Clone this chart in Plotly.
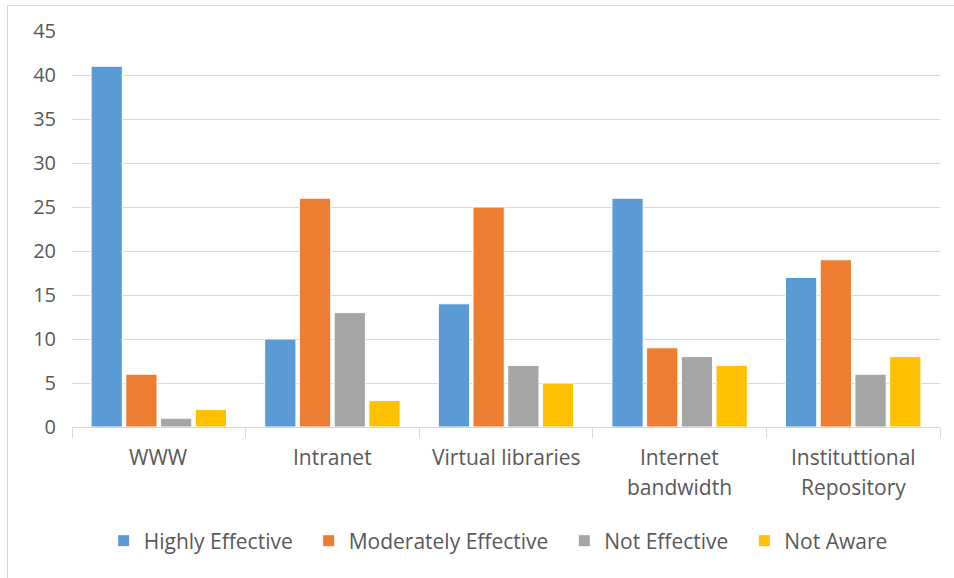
import plotly.graph_objects as go

# Tool categories on the x axis (label lines separated by <br>)
categories = ["WWW", "Intranet", "Virtual libraries",
              "Internet<br>bandwidth", "Instituttional<br>Repository"]

# Responses per rating level
highly_effective = [41, 10, 14, 26, 17]
moderately_effective = [6, 26, 25, 9, 19]
not_effective = [1, 13, 7, 8, 6]
not_aware = [2, 3, 5, 7, 8]

series_names = ["Highly Effective", "Moderately Effective",
                "Not Effective", "Not Aware"]
series_values = [highly_effective, moderately_effective, not_effective, not_aware]
series_colors = ["#5B9BD5", "#ED7D31", "#A5A5A5", "#FFC000"]

font_family = "Open Sans, Noto Sans, sans-serif"
text_color = "#595959"
grid_color = "#D9D9D9"
label_size = 21
tick_size = 20

# Non-breaking spaces widen the gap between legend entries
legend_pad = "\u00a0\u00a0"

fig = go.Figure()
for i, (name, values, color) in enumerate(zip(series_names, series_values, series_colors)):
    pad = legend_pad if i < len(series_names) - 1 else ""
    fig.add_trace(go.Bar(
        x=categories, y=values, name=name + pad,
        hovertemplate=name + ": %{y}<extra></extra>",
        marker=dict(color=color, line=dict(color="white", width=1)),
    ))

# Category labels: one annotation per text line so the line spacing is roomy
annotations = []
for cat in categories:
    for i, line in enumerate(cat.split("<br>")):
        annotations.append(dict(
            x=cat, xref="x", y=0, yref="paper",
            text=line, showarrow=False,
            xanchor="center", yanchor="middle",
            yshift=-30 - 30 * i,
            font=dict(family=font_family, size=label_size, color=text_color),
        ))

fig.update_layout(
    width=954, height=578,
    margin=dict(l=72, r=14, t=31, b=151),
    paper_bgcolor="white", plot_bgcolor="white",
    barmode="group", bargap=0.2, bargroupgap=0.1,
    font=dict(family=font_family, size=label_size, color=text_color),
    legend=dict(
        orientation="h", x=0.491, xanchor="center", y=-0.288, yanchor="middle",
        font=dict(size=label_size, color=text_color), itemwidth=30,
        traceorder="normal",
    ),
    xaxis=dict(
        showline=True, linecolor=grid_color, linewidth=1,
        ticks="outside", tickson="boundaries", ticklen=10,
        tickcolor=grid_color, showgrid=False, showticklabels=False,
    ),
    yaxis=dict(
        range=[0, 45], dtick=5, showgrid=True, gridcolor=grid_color,
        gridwidth=1, zeroline=False, showline=False,
        ticks="outside", ticklen=11, tickcolor="rgba(0,0,0,0)",
        tickfont=dict(size=tick_size, color=text_color),
    ),
    annotations=annotations,
    shapes=[dict(
        type="rect", xref="paper", yref="paper",
        x0=-0.0743, x1=1.1, y0=-0.45, y1=1.0644,
        line=dict(color="#D9D9D9", width=1), layer="below",
    )],
)

fig.write_html("out.html")
